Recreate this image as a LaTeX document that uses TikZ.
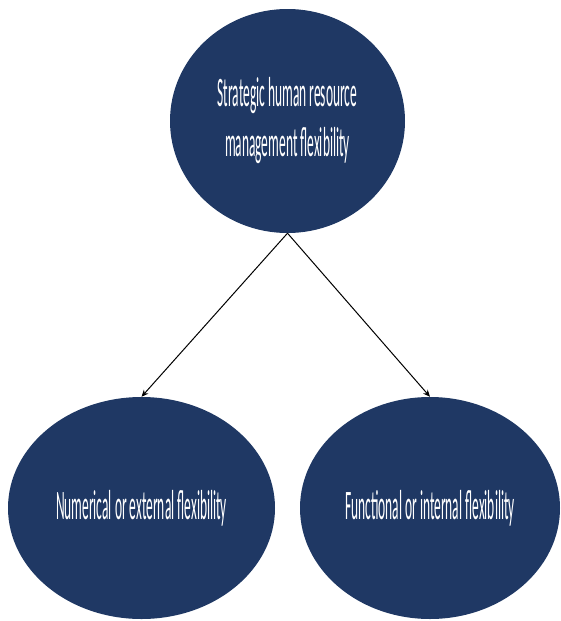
\documentclass[tikz,border=0pt]{standalone}
\usepackage{fontspec}
\setmainfont{Carlito}
\usepackage{graphicx}
\usepackage{xcolor}
\usetikzlibrary{arrows.meta,shapes.geometric}
\definecolor{flexnavy}{RGB}{31,56,100}
\newcommand{\squeeze}[1]{\scalebox{0.32}[1]{#1}}
\tikzset{
  flexarr/.style={-{Stealth[length=7pt,width=6pt]}, line width=1pt, draw=black},
  flexnode/.style={ellipse, fill=flexnavy, text=white, align=center, inner sep=0pt},
}

\begin{document}
\begin{tikzpicture}[
  x=1pt, y=-1pt,
  font=\fontsize{42}{50}\selectfont,
]
  \useasboundingbox (0,0) rectangle (561,621);
  \node[flexnode, minimum width=235pt, minimum height=224pt] (shrm) at (287.5,121) {\squeeze{Strategic human resource}\\\squeeze{management flexibility}};
  \node[flexnode, minimum width=267pt, minimum height=222pt] (num) at (141.5,508) {\squeeze{Numerical or external flexibility}};
  \node[flexnode, minimum width=260pt, minimum height=222pt] (fun) at (430,508) {\squeeze{Functional or internal flexibility}};
  \draw[flexarr] (shrm.south) -- (num.north);
  \draw[flexarr] (shrm.south) -- (fun.north);
\end{tikzpicture}
\end{document}
